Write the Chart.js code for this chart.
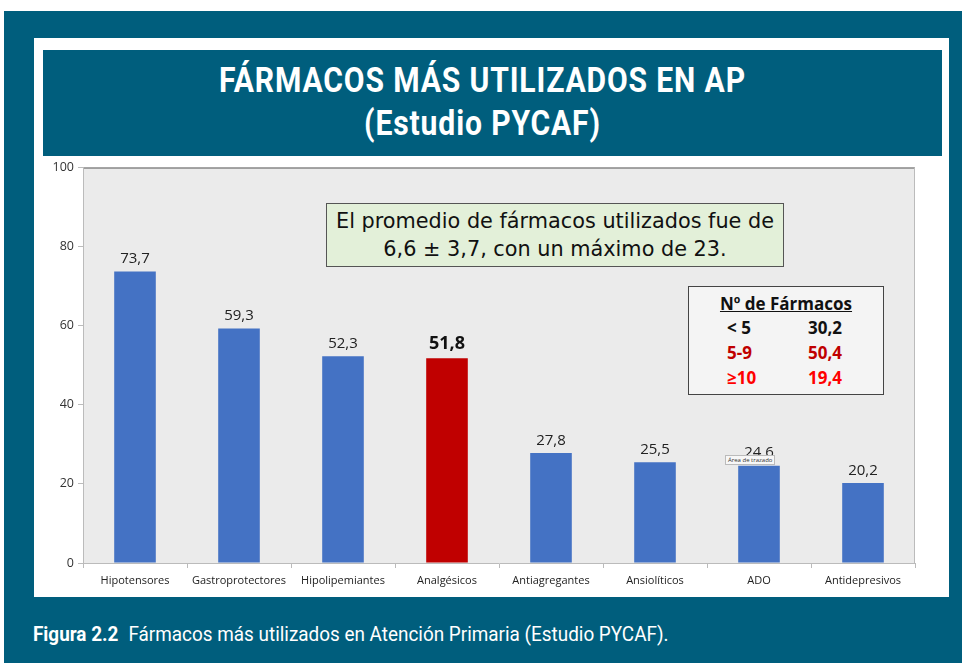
<!DOCTYPE html>
<html>
<head>
<meta charset="utf-8">
<script src="https://cdn.jsdelivr.net/npm/chart.js@4.4.1/dist/chart.umd.min.js"></script>
<style>
  html, body { margin: 0; padding: 0; background: #fff; }
  body { width: 962px; height: 663px; position: relative; overflow: hidden; font-family: Roboto, sans-serif; }
  #frame { position: absolute; left: 4px; top: 11px; width: 958px; height: 652px; background: #005e7d; }
  #panel { position: absolute; left: 34px; top: 38px; width: 915px; height: 559px; background: #fff; }
  #banner { position: absolute; left: 43px; top: 50px; width: 899px; height: 106px; background: #005e7d; color: #fff; text-align: center; }
  #banner div { font-weight: bold; font-size: 35px; line-height: 43px; transform: translateX(-10px) scaleX(0.86); letter-spacing: 1px; }
  #wrap { position: absolute; left: 34px; top: 156px; width: 915px; height: 441px; }
  #caption { position: absolute; left: 33px; top: 622px; color: #fff; font-size: 21px; transform: scaleX(0.9); transform-origin: left center; white-space: nowrap; }
  #caption b { margin-right: 6px; }
  .note { position: absolute; left: 326px; top: 203px; width: 458px; height: 64px; background: #e3f0d9; border: 1px solid #555; text-align: center; font-family: "DejaVu Sans", sans-serif; font-size: 20.8px; line-height: 28px; color: #111; padding-top: 3px; box-sizing: border-box; }
  .table { position: absolute; left: 688px; top: 286px; width: 196px; height: 109px; background: #f4f4f4; border: 1px solid #444; box-sizing: border-box; font-family: "Open Sans", sans-serif; font-weight: bold; font-size: 17px; }
  .table .head { position: absolute; left: 0; top: 5px; width: 100%; text-align: center; text-decoration: underline; color: #111; }
  .table .row { position: absolute; left: 0; width: 100%; }
  .table .row span { position: absolute; }
  .tip { position: absolute; left: 725px; top: 455px; font-size: 6px; background: #f7f7f7; border: 1px solid #bbb; padding: 0 2px; color: #333; font-family: "Open Sans", sans-serif; }
</style>
</head>
<body>
<div id="frame"></div>
<div id="panel"></div>
<div id="banner">
  <div style="margin-top:9px">FÁRMACOS MÁS UTILIZADOS EN AP</div>
  <div>(Estudio PYCAF)</div>
</div>
<div id="wrap"><canvas id="chart" width="915" height="441"></canvas></div>
<div class="note">El promedio de fármacos utilizados fue de<br>6,6 ± 3,7, con un máximo de 23.</div>
<div class="table" id="table"><div class="head">Nº de Fármacos</div></div>
<div class="tip">Área de trazado</div>
<div id="caption"><b>Figura 2.2</b> Fármacos más utilizados en Atención Primaria (Estudio PYCAF).</div>

<script>
var categories = ["Hipotensores", "Gastroprotectores", "Hipolipemiantes", "Analgésicos", "Antiagregantes", "Ansiolíticos", "ADO", "Antidepresivos"];
var values = [73.7, 59.3, 52.3, 51.8, 27.8, 25.5, 24.6, 20.2];
var valueLabels = ["73,7", "59,3", "52,3", "51,8", "27,8", "25,5", "24.6", "20,2"];
var highlight = "Analgésicos";
var yTicks = [0, 20, 40, 60, 80, 100];

var groups = ["< 5", "5-9", "≥10"];
var groupShares = [30.2, 50.4, 19.4];
var groupColors = ["#111111", "#c00000", "#ff0000"];

// small table of Nº de Fármacos
var table = document.getElementById("table");
groups.forEach(function (g, i) {
    var row = document.createElement("div");
    row.className = "row";
    row.style.top = (29 + i * 25) + "px";
    row.style.color = groupColors[i];
    row.innerHTML = '<span style="left:38px">' + g + '</span><span style="left:119px">' +
        groupShares[i].toFixed(1).replace(".", ",") + '</span>';
    table.appendChild(row);
});

var plotBg = {
    id: "plotBg",
    beforeDraw: function (chart) {
        var a = chart.chartArea, ctx = chart.ctx;
        ctx.save();
        ctx.fillStyle = "#ebebeb";
        ctx.fillRect(a.left, a.top, a.right - a.left, a.bottom - a.top);
        ctx.strokeStyle = "#555";
        ctx.lineWidth = 1;
        ctx.beginPath();
        ctx.moveTo(a.left, a.top + 0.5);
        ctx.lineTo(a.right, a.top + 0.5);
        ctx.stroke();
        ctx.strokeStyle = "#bbb";
        ctx.beginPath();
        ctx.moveTo(a.right - 0.5, a.top);
        ctx.lineTo(a.right - 0.5, a.bottom);
        ctx.stroke();
        ctx.restore();
    }
};

var barLabels = {
    id: "barLabels",
    afterDatasetsDraw: function (chart) {
        var ctx = chart.ctx;
        var meta = chart.getDatasetMeta(0);
        ctx.save();
        ctx.textAlign = "center";
        ctx.textBaseline = "bottom";
        meta.data.forEach(function (bar, i) {
            if (categories[i] === highlight) {
                ctx.font = "bold 18px 'Open Sans'";
                ctx.fillStyle = "#111";
            } else {
                ctx.font = "15px 'Open Sans'";
                ctx.fillStyle = "#222";
            }
            ctx.fillText(valueLabels[i], bar.x, bar.y - 5);
        });
        ctx.restore();
    }
};

new Chart(document.getElementById("chart").getContext("2d"), {
    type: "bar",
    data: {
        labels: categories,
        datasets: [{
            data: values,
            backgroundColor: categories.map(function (c) { return c === highlight ? "#c00000" : "#4472c4"; }),
            borderWidth: 0,
            barPercentage: 0.4,
            categoryPercentage: 1
        }]
    },
    options: {
        responsive: false,
        animation: false,
        layout: { padding: { top: 9, right: 34, left: 0, bottom: 0 } },
        plugins: { legend: { display: false }, tooltip: { enabled: false } },
        scales: {
            y: {
                min: 0,
                max: 100,
                afterBuildTicks: function (axis) {
                    axis.ticks = yTicks.map(function (v) { return { value: v }; });
                },
                afterFit: function (axis) { axis.width = 49; },
                grid: { drawOnChartArea: false, tickLength: 5, color: "#bbb" },
                border: { color: "#bbb" },
                ticks: { color: "#333", font: { family: "Open Sans", size: 12.5 }, padding: 4 }
            },
            x: {
                afterFit: function (axis) { axis.height = 34; },
                grid: { offset: true, drawOnChartArea: false, tickLength: 5, color: "#bbb" },
                border: { color: "#bbb" },
                ticks: { color: "#222", font: { family: "Open Sans", size: 11 }, padding: 6, maxRotation: 0, autoSkip: false }
            }
        }
    },
    plugins: [plotBg, barLabels]
});
</script>
</body>
</html>
